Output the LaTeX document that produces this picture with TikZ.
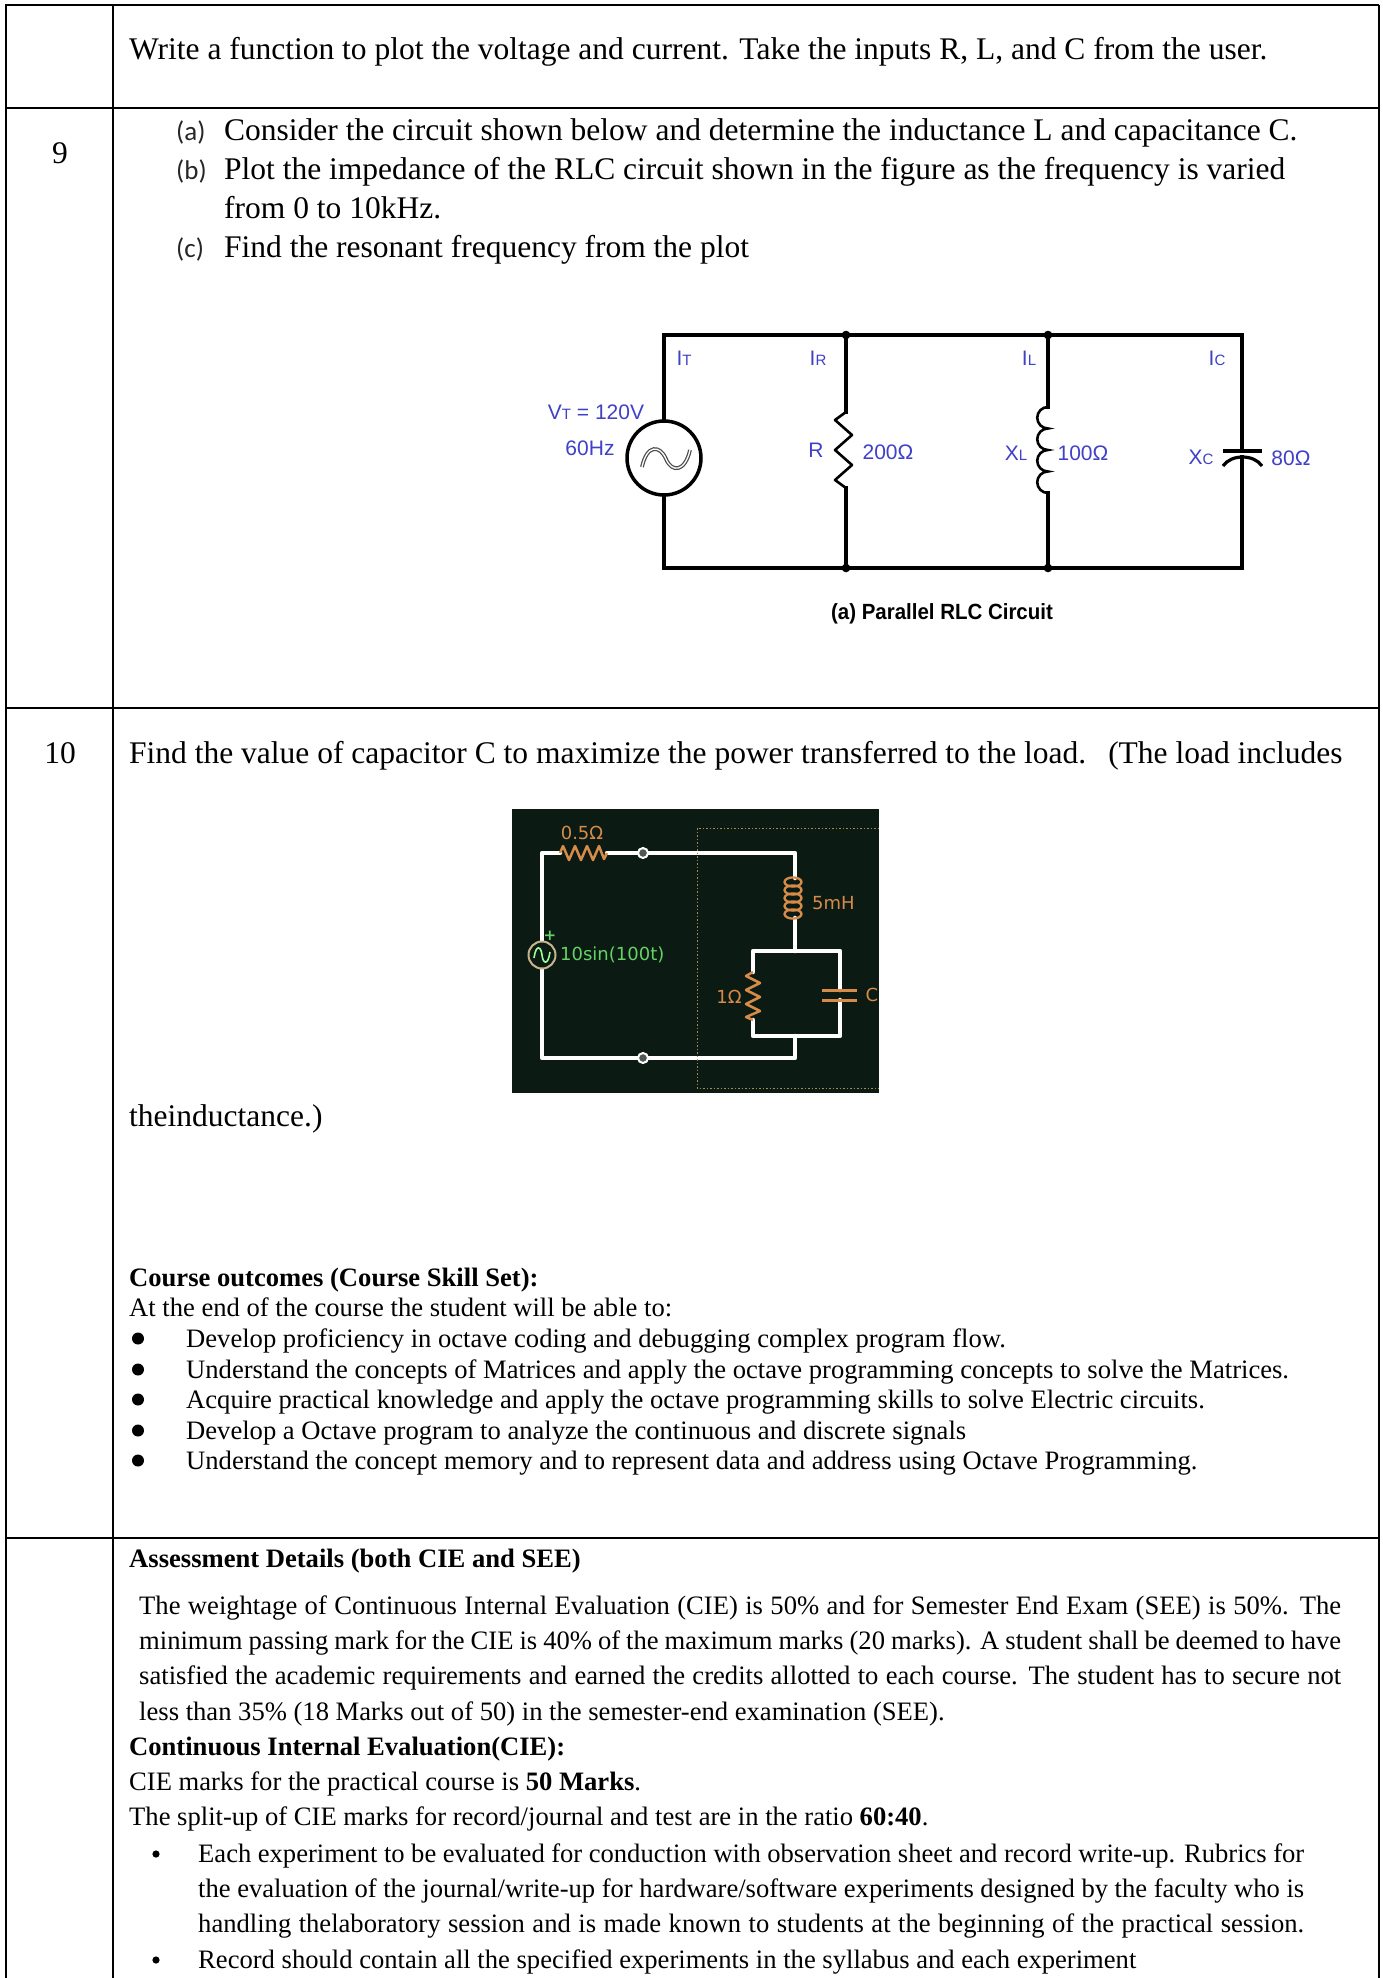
\documentclass[tikz,border=0pt]{standalone}
\usepackage{fontspec}
\setmainfont{Liberation Serif}
\newfontfamily\sansf{Liberation Sans}
\newfontfamily\calib{Carlito}
\newfontfamily\dejav{DejaVu Sans}
\definecolor{lblblue}{RGB}{64,64,200}
\definecolor{darkbg}{RGB}{12,26,20}
\definecolor{orng}{RGB}{214,140,72}
\definecolor{grn}{RGB}{100,210,100}
\definecolor{tanc}{RGB}{200,180,140}
\definecolor{dotc}{RGB}{170,135,80}
\begin{document}
\begin{tikzpicture}[x=1pt,y=-1pt,
  tbl/.style={line width=2.2},
  main/.style={anchor=base west,inner sep=0,font=\fontsize{31.5}{38}\selectfont},
  body/.style={anchor=base west,inner sep=0,font=\fontsize{26.6}{30}\selectfont},
  bodyb/.style={anchor=base west,inner sep=0,font=\bfseries\fontsize{26.6}{30}\selectfont},
  itemlab/.style={anchor=base west,inner sep=0,text=black!85,font=\calib\fontsize{27}{30}\selectfont},
  lbl/.style={inner sep=0,text=lblblue,font=\sansf\fontsize{21}{21}\selectfont},
  wire/.style={line width=3.5,line join=miter,line cap=rect},
  wwire/.style={white,line width=4.5,line join=round,line cap=round},
  part/.style={orng,line width=2.5,line join=round},
  dlbl/.style={inner sep=0,font=\dejav\fontsize{18}{18}\selectfont},
  dotline/.style={dotc,line width=1,dash pattern=on 1.5 off 2},
]
\useasboundingbox (0,0) rectangle (1382,1978);
\fill[white] (0,0) rectangle (1382,1978);

% ---------- table ----------
\draw[tbl] (5,5) -- (1379,5);
\draw[tbl] (6,5) -- (6,1978);
\draw[tbl] (113,5) -- (113,1978);
\draw[tbl] (1379,5) -- (1379,1978);
\draw[tbl] (6,108) -- (1379,108);
\draw[tbl] (6,708) -- (1379,708);
\draw[tbl] (6,1538) -- (1379,1538);

% ---------- row 1 ----------
\node[main] (t1) at (129,59) {Write a function to plot the voltage and current. Take the inputs R, L, and C from the user.};

% ---------- row 2 ----------
\node[main,anchor=base] (n9) at (60,163) {9};
\node[itemlab] (la) at (176,140) {(a)};
\node[main] (ta) at (224,140) {Consider the circuit shown below and determine the inductance L and capacitance C.};
\node[itemlab] (lb) at (176,179) {(b)};
\node[main] (tb) at (224,179) {Plot the impedance of the RLC circuit shown in the figure as the frequency is varied};
\node[main] (tb2) at (224,218) {from 0 to 10kHz.};
\node[itemlab] (lc) at (176,257) {(c)};
\node[main] (tc) at (224,257) {Find the resonant frequency from the plot};

% parallel RLC circuit
\coordinate (A) at (664,335);
\coordinate (B) at (846,335);
\coordinate (Lt) at (1048,335);
\coordinate (D) at (1242,335);
\coordinate (A2) at (664,568);
\coordinate (B2) at (846,568);
\coordinate (L2) at (1048,568);
\coordinate (D2) at (1242,568);
\coordinate (S) at (664,458);
\coordinate (Stop) at (664,421);
\coordinate (Sbot) at (664,495);
\coordinate (Rtop) at (846,412);
\coordinate (Rbot) at (846,488);
\coordinate (Ltop) at (1048,407);
\coordinate (Lbot) at (1048,493);
\coordinate (Ctop) at (1242,451);
\coordinate (Cbot) at (1242,457);

\draw[wire] (Stop) -- (A) -- (D) -- (Ctop);
\draw[wire] (Sbot) -- (A2) -- (D2) -- (Cbot);
\draw[wire] (B) -- (Rtop);
\draw[wire] (Rbot) -- (B2);
\draw[wire] (Lt) -- (Ltop);
\draw[wire] (Lbot) -- (L2);
\draw[line width=3.5] (S) circle[radius=37];
\draw[line width=3.8,black!70] (642,467) .. controls (647,444) and (660,445) .. (666,459) .. controls (672,473) and (685,472) .. (690,450);
\draw[line width=1.3,white] (642,467) .. controls (647,444) and (660,445) .. (666,459) .. controls (672,473) and (685,472) .. (690,450);
\draw[line width=2.6,line join=round] (Rtop) -- (835,420) -- (852,435) -- (835,450) -- (852,465) -- (835,480) -- (Rbot);
\draw[line width=2.6] (Ltop) arc[start angle=270,end angle=90,radius=10.75]
  arc[start angle=270,end angle=90,radius=10.75]
  arc[start angle=270,end angle=90,radius=10.75]
  arc[start angle=270,end angle=90,radius=10.75];
\draw[line width=3.2] (1223,451) -- (1262,451);
\draw[line width=3.2] (1223,466) .. controls (1231,454) and (1254,454) .. (1262,466);
\foreach \p in {B,Lt,B2,L2} \fill (\p) circle[radius=4.3];

\node[lbl] (lIT) at (684,358) {I{\fontsize{15}{15}\selectfont T}};
\node[lbl] (lIR) at (818,358) {I{\fontsize{15}{15}\selectfont R}};
\node[lbl] (lIL) at (1029,358) {I{\fontsize{15}{15}\selectfont L}};
\node[lbl] (lIC) at (1217,358) {I{\fontsize{15}{15}\selectfont C}};
\node[lbl] (lVT) at (596,412) {V{\fontsize{15}{15}\selectfont T} = 120V};
\node[lbl] (lHz) at (590,448) {60Hz};
\node[lbl] (lR) at (816,450) {R};
\node[lbl] (lRv) at (888,452) {200Ω};
\node[lbl] (lXL) at (1016,453) {X{\fontsize{15}{15}\selectfont L}};
\node[lbl] (lLv) at (1083,453) {100Ω};
\node[lbl] (lXC) at (1201,457) {X{\fontsize{15}{15}\selectfont C}};
\node[lbl] (lCv) at (1291,458) {80Ω};
\node[inner sep=0,font=\sansf\bfseries\fontsize{22}{22}\selectfont] (cap) at (942,614) {\scalebox{0.93}[1]{(a) Parallel RLC Circuit}};

% ---------- row 3 ----------
\node[main,anchor=base] (n10) at (60,763) {10};
\node[main] (t10) at (129,763) {Find the value of capacitor C to maximize the power transferred to the load.\hspace{22pt}(The load includes};
\node[main] (t10b) at (129,1126) {theinductance.)};

% dark circuit picture
\fill[darkbg] (512,809) rectangle (879,1093);
\coordinate (P1) at (542,853);
\coordinate (P2) at (560,853);
\coordinate (P3) at (607,853);
\coordinate (T1) at (643,853);
\coordinate (P4) at (795,853);
\coordinate (P5) at (795,878);
\coordinate (P6) at (795,918);
\coordinate (P7) at (795,951);
\coordinate (Q1) at (753,951);
\coordinate (Q2) at (840,951);
\coordinate (Q3) at (753,972);
\coordinate (Q4) at (753,1020);
\coordinate (Q5) at (753,1036);
\coordinate (Q6) at (840,990);
\coordinate (Q7) at (840,1000);
\coordinate (Q8) at (840,1036);
\coordinate (P8) at (795,1036);
\coordinate (P9) at (795,1058);
\coordinate (T2) at (643,1058);
\coordinate (P10) at (542,1058);
\coordinate (VS) at (542,955);
\coordinate (VSt) at (542,942);
\coordinate (VSb) at (542,968);

\draw[wwire] (VSt) -- (P1) -- (P2);
\draw[wwire] (P3) -- (P4) -- (P5);
\draw[wwire] (P6) -- (P7);
\draw[wwire] (Q3) -- (Q1) -- (Q2) -- (Q6);
\draw[wwire] (Q4) -- (Q5) -- (Q8) -- (Q7);
\draw[wwire] (P8) -- (P9) -- (P10) -- (VSb);
\draw[part] (P2) -- (563,846) -- (569,860) -- (575,846) -- (581,860) -- (587,846) -- (593,860) -- (599,846) -- (604,859) -- (P3);
\draw[part] (Q3) -- (746,976) -- (760,983) -- (746,990) -- (760,997) -- (746,1004) -- (760,1011) -- (746,1017) -- (Q4);
\foreach \yy in {882,890,898,906,914} \draw[part,line width=2.3] (793,\yy) ellipse[x radius=8.5,y radius=4.6];
\draw[orng,line width=3] (822,990) -- (857,990);
\draw[orng,line width=3] (822,1000) -- (857,1000);
\foreach \t in {T1,T2} \draw[white,fill=gray!60!darkbg,line width=2] (\t) circle[radius=5];
\draw[tanc,fill=darkbg,line width=2] (VS) circle[radius=13.5];
\draw[green!40!white,line width=1.6] (534,958) .. controls (536,944) and (541,946) .. (542,955) .. controls (543,964) and (548,966) .. (550,952);
\draw[dotline] (879,828) -- (697,828) -- (697,1088) -- (879,1088);

\node[dlbl,text=orng] (d05) at (582,833) {0.5Ω};
\node[dlbl,text=orng,anchor=west] (d5m) at (812,903) {5mH};
\node[dlbl,text=orng] (d1) at (729,997) {1Ω};
\node[dlbl,text=orng] (dC) at (872,995) {C};
\node[inner sep=0,text=grn,font=\dejav\bfseries\fontsize{15}{15}\selectfont] (dplus) at (550,936) {+};
\node[dlbl,text=grn,anchor=west] (dsrc) at (560,955) {10sin(100t)};

% course outcomes
\node[bodyb] (co) at (129,1286) {Course outcomes (Course Skill Set):};
\node[body] (co0) at (129,1316) {At the end of the course the student will be able to:};
\foreach \yy/\tx [count=\i] in {1347/{Develop proficiency in octave coding and debugging complex program flow.},
  1378/{Understand the concepts of Matrices and apply the octave programming concepts to solve the Matrices.},
  1408/{Acquire practical knowledge and apply the octave programming skills to solve Electric circuits.},
  1439/{Develop a Octave program to analyze the continuous and discrete signals},
  1469/{Understand the concept memory and to represent data and address using Octave Programming.}}
{
  \fill (138,\yy-8.5) circle[radius=6];
  \node[body] (co\i) at (186,\yy) {\tx};
}

% ---------- row 4 ----------
\node[bodyb] (ad) at (129,1567) {Assessment Details (both CIE and SEE)};
\node[body] (p1) at (139,1614) {\makebox[1202pt][s]{The weightage of Continuous Internal Evaluation (CIE) is 50\% and for Semester End Exam (SEE) is 50\%. The}};
\node[body] (p2) at (139,1649) {\makebox[1202pt][s]{minimum passing mark for the CIE is 40\% of the maximum marks (20 marks). A student shall be deemed to have}};
\node[body] (p3) at (139,1684) {\makebox[1202pt][s]{satisfied the academic requirements and earned the credits allotted to each course. The student has to secure not}};
\node[body] (p4) at (139,1720) {less than 35\% (18 Marks out of 50) in the semester-end examination (SEE).};
\node[bodyb] (cie) at (129,1755) {Continuous Internal Evaluation(CIE):};
\node[body] (c1) at (129,1790) {CIE marks for the practical course is \textbf{50 Marks}.};
\node[body] (c2) at (129,1825) {The split-up of CIE marks for record/journal and test are in the ratio \textbf{60:40}.};
\foreach \yy in {1862,1968} \fill (156,\yy-8) circle[radius=3.6];
\node[body] (b1) at (198,1862) {\makebox[1106pt][s]{Each experiment to be evaluated for conduction with observation sheet and record write-up. Rubrics for}};
\node[body] (b2) at (198,1897) {\makebox[1106pt][s]{the evaluation of the journal/write-up for hardware/software experiments designed by the faculty who is}};
\node[body] (b3) at (198,1932) {\makebox[1106pt][s]{handling thelaboratory session and is made known to students at the beginning of the practical session.}};
\node[body] (b4) at (198,1968) {Record should contain all the specified experiments in the syllabus and each experiment};
\end{tikzpicture}
\end{document}
